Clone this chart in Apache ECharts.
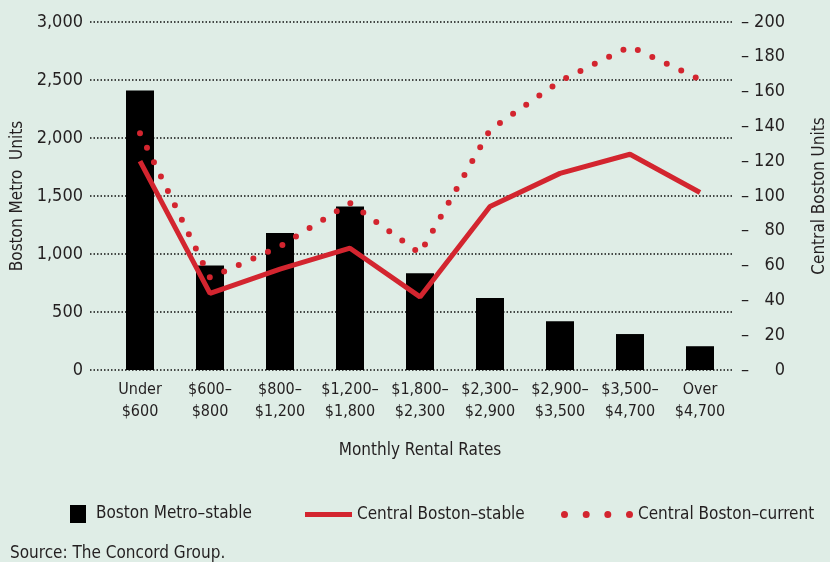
<!DOCTYPE html>
<html>
<head>
<meta charset="utf-8">
<script src="https://cdn.jsdelivr.net/npm/echarts@6/dist/echarts.min.js"></script>
<style>
  html, body { margin: 0; padding: 0; background: #dfede6; }
  #chart { width: 830px; height: 562px; }
</style>
</head>
<body>
<div id="chart"></div>
<script>
// rent bands on the x axis
var categories = ['Under\n$600', '$600–\n$800', '$800–\n$1,200', '$1,200–\n$1,800', '$1,800–\n$2,300',
  '$2,300–\n$2,900', '$2,900–\n$3,500', '$3,500–\n$4,700', 'Over\n$4,700'];
// left axis: Boston Metro units (bars)
var metroStable = [2410, 900, 1180, 1410, 835, 620, 420, 310, 205];
// right axis: Central Boston units (lines)
var centralStable = [120, 44, 58, 70, 42, 94, 113, 124, 102];
var centralCurrent = [136, 53, 71, 96, 67, 138, 166, 186, 167];
var leftTicks = [0, 500, 1000, 1500, 2000, 2500, 3000];
var rightTicks = [0, 20, 40, 60, 80, 100, 120, 140, 160, 180, 200];

var FONT = "'DejaVu Sans Condensed', sans-serif";
var INK = '#231f20';
var RED = '#d3252f';

var myChart = echarts.init(document.getElementById('chart'));

var legendText = { fontFamily: FONT, fontSize: 17, color: INK };

var option = {
  backgroundColor: '#dfede6',
  textStyle: { fontFamily: FONT, color: INK },
  title: {
    text: 'Source: The Concord Group.',
    left: 10, top: 545, padding: 0,
    textStyle: { fontFamily: FONT, fontSize: 17, fontWeight: 'normal', color: INK }
  },
  legend: [
    {
      left: 70, top: 505, padding: 0, itemWidth: 16, itemHeight: 18,
      data: [{ name: 'Boston Metro–stable', icon: 'rect' }],
      textStyle: { fontFamily: FONT, fontSize: 17, color: INK, padding: [0, 0, 0, 5] },
      selectedMode: false
    },
    {
      left: 305, top: 506, padding: 0, itemWidth: 47, itemHeight: 5,
      data: [{ name: 'Central Boston–stable', icon: 'rect' }],
      itemStyle: { color: RED, borderWidth: 0 },
      textStyle: legendText,
      selectedMode: false
    },
    {
      left: 561, top: 506, padding: 0, itemWidth: 72, itemHeight: 7,
      data: [{
        name: 'Central Boston–current',
        icon: 'path://M0,3.5a3.5,3.5 0 1,0 7,0a3.5,3.5 0 1,0 -7,0z' +
          'M21.7,3.5a3.5,3.5 0 1,0 7,0a3.5,3.5 0 1,0 -7,0z' +
          'M43.3,3.5a3.5,3.5 0 1,0 7,0a3.5,3.5 0 1,0 -7,0z' +
          'M65,3.5a3.5,3.5 0 1,0 7,0a3.5,3.5 0 1,0 -7,0z'
      }],
      itemStyle: { color: RED, borderWidth: 0 },
      textStyle: legendText,
      selectedMode: false
    }
  ],
  grid: [
    // only for the dotted grid lines, which run a bit wider than the bars
    { left: 90, right: 97, top: 22, bottom: 192, outerBoundsMode: 'none', containLabel: false },
    { left: 105, right: 95, top: 22, bottom: 192, outerBoundsMode: 'none', containLabel: false }
  ],
  xAxis: [
    { gridIndex: 0, type: 'value', min: 0, max: 1, show: false },
    {
      gridIndex: 1, type: 'category', data: categories,
      axisLine: { show: false }, axisTick: { show: false },
      axisLabel: { fontFamily: FONT, fontSize: 16, color: INK, margin: 9, lineHeight: 22, interval: 0 },
      name: 'Monthly Rental Rates', nameLocation: 'middle', nameGap: 72,
      nameTextStyle: { fontFamily: FONT, fontSize: 17, color: INK }
    }
  ],
  yAxis: [
    {
      gridIndex: 0, type: 'value', min: leftTicks[0], max: leftTicks[leftTicks.length - 1], interval: 500,
      axisLine: { show: false }, axisTick: { show: false },
      axisLabel: {
        fontFamily: FONT, fontSize: 18, color: INK, margin: 7,
        formatter: function (v) { return v.toLocaleString('en-US'); }
      },
      splitLine: { show: true, lineStyle: { color: '#111', width: 1.6, type: [1.5, 2] } },
      name: 'Boston Metro  Units', nameLocation: 'middle', nameGap: 64, nameRotate: 90,
      nameTextStyle: { fontFamily: FONT, fontSize: 17, color: INK }
    },
    {
      gridIndex: 1, type: 'value', min: 0, max: 3000, interval: 500, show: false,
      splitLine: { show: false }
    },
    {
      gridIndex: 1, type: 'value', position: 'right', min: rightTicks[0], max: rightTicks[rightTicks.length - 1], interval: 20,
      axisLine: { show: false }, axisTick: { show: false }, splitLine: { show: false },
      axisLabel: {
        margin: 6,
        formatter: function (v) { return '{d|–}{n|' + v + '}'; },
        rich: {
          d: { fontFamily: FONT, fontSize: 18, color: INK, width: 12, align: 'left' },
          n: { fontFamily: FONT, fontSize: 18, color: INK, width: 32, align: 'right' }
        }
      },
      name: 'Central Boston Units', nameLocation: 'middle', nameGap: 76, nameRotate: 90,
      nameTextStyle: { fontFamily: FONT, fontSize: 17, color: INK }
    }
  ],
  series: [
    {
      name: 'Boston Metro–stable', type: 'bar', xAxisIndex: 1, yAxisIndex: 1,
      data: metroStable, barWidth: 28, itemStyle: { color: '#000' }, z: 2
    },
    {
      name: 'Central Boston–stable', type: 'line', xAxisIndex: 1, yAxisIndex: 2,
      data: centralStable, symbol: 'none', color: RED,
      lineStyle: { color: RED, width: 5 }, z: 4
    },
    {
      name: 'Central Boston–current', type: 'line', xAxisIndex: 1, yAxisIndex: 2,
      data: centralCurrent, symbol: 'none', color: RED,
      lineStyle: { color: RED, width: 6, type: [0, 16], cap: 'round' }, z: 3
    }
  ]
};

myChart.setOption(option);
</script>
</body>
</html>
